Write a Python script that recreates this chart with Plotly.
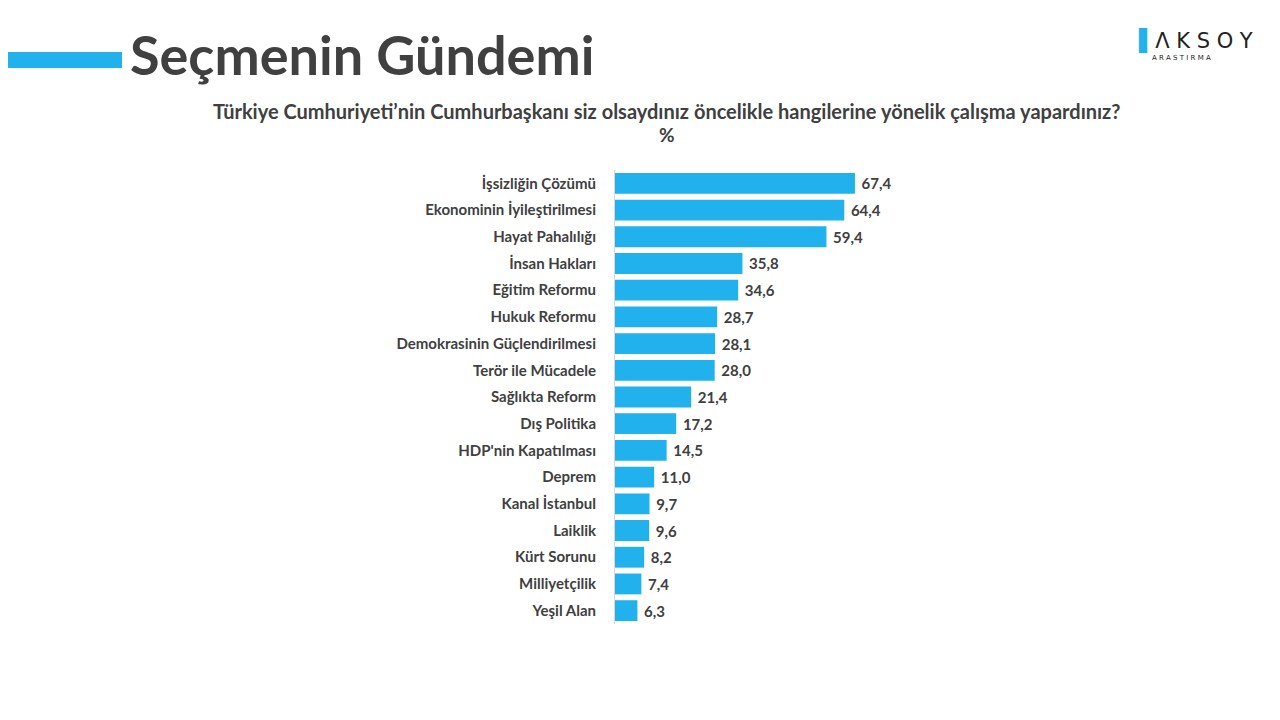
import plotly.graph_objects as go

categories = ["İşsizliğin Çözümü", "Ekonominin İyileştirilmesi", "Hayat Pahalılığı", "İnsan Hakları",
              "Eğitim Reformu", "Hukuk Reformu", "Demokrasinin Güçlendirilmesi", "Terör ile Mücadele",
              "Sağlıkta Reform", "Dış Politika", "HDP'nin Kapatılması", "Deprem", "Kanal İstanbul",
              "Laiklik", "Kürt Sorunu", "Milliyetçilik", "Yeşil Alan"]
values = [67.4, 64.4, 59.4, 35.8, 34.6, 28.7, 28.1, 28.0, 21.4, 17.2, 14.5, 11.0, 9.7, 9.6, 8.2, 7.4, 6.3]

BLUE = "#21b1ec"
TEXT = "#404040"
FONT = "Lato"

# page adds ~8px body offset, so layout is shifted up/left by 8
L, T, W, H = 615, 170, 356, 454
OFF = 8


def px(x):
    return (x - L) / W


def py(y):
    return (T + H - y) / H


fig = go.Figure(go.Bar(
    x=values, y=["<b>" + c + "</b>" for c in categories], orientation="h",
    marker=dict(color=BLUE, line=dict(width=0)),
    width=0.78,
    text=["<b> " + f"{v:.1f}".replace(".", ",") + "</b>" for v in values],
    textposition="outside", cliponaxis=False,
    textfont=dict(family=FONT, size=15, color=TEXT),
))

fig.update_layout(
    width=1280, height=720,
    plot_bgcolor="white", paper_bgcolor="white",
    margin=dict(l=L - OFF, r=1280 - L - W + OFF, t=T - OFF, b=720 - T - H + OFF),
    showlegend=False,
    font=dict(family=FONT, color=TEXT),
    xaxis=dict(range=[0, 100], visible=False),
    yaxis=dict(autorange="reversed", showgrid=False, ticks="", ticklabelstandoff=15,
               tickfont=dict(family=FONT, size=15, color=TEXT),
               showline=True, linecolor="#d9d9d9", linewidth=1),
    bargap=0.22,
)

# blue accent bar next to the heading
fig.add_shape(type="rect", xref="paper", yref="paper", x0=px(-20), x1=px(122),
              y0=py(68), y1=py(52), fillcolor=BLUE, line_width=0)

fig.add_annotation(text="<b>Seçmenin Gündemi</b>", xref="paper", yref="paper",
                   x=px(128), y=py(55), xanchor="left", yanchor="middle",
                   showarrow=False, font=dict(family=FONT, size=54, color=TEXT))

fig.add_annotation(text="<b>Türkiye Cumhuriyeti’nin Cumhurbaşkanı siz olsaydınız öncelikle hangilerine yönelik çalışma yapardınız?</b>",
                   xref="paper", yref="paper", x=px(667), y=py(111),
                   xanchor="center", yanchor="middle", showarrow=False,
                   font=dict(family=FONT, size=20, color=TEXT))
fig.add_annotation(text="<b>%</b>", xref="paper", yref="paper", x=px(667), y=py(135),
                   xanchor="center", yanchor="middle", showarrow=False,
                   font=dict(family=FONT, size=19, color=TEXT))

# logo
fig.add_annotation(text="<span style='color:#21b1ec'>▌</span>Λ K S O Y", xref="paper", yref="paper",
                   x=px(1136), y=py(41), xanchor="left", yanchor="middle",
                   showarrow=False, font=dict(family="DejaVu Sans", size=21, color="#222222"))
fig.add_annotation(text="A R A S T I R M A", xref="paper", yref="paper",
                   x=px(1150), y=py(58), xanchor="left", yanchor="middle",
                   showarrow=False, font=dict(family="DejaVu Sans", size=7, color="#222222"))

fig.write_html("out.html")
